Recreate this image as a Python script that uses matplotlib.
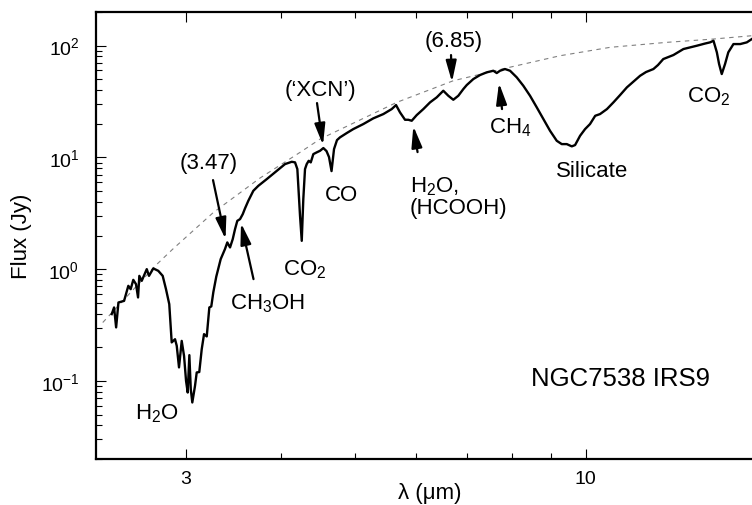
import matplotlib
matplotlib.use('Agg')
import matplotlib.pyplot as plt
from matplotlib.ticker import NullFormatter

plt.rcParams['font.family'] = ['Liberation Sans', 'DejaVu Sans']
plt.rcParams['mathtext.fontset'] = 'custom'
plt.rcParams['mathtext.rm'] = 'Liberation Sans'
plt.rcParams['mathtext.it'] = 'Liberation Sans:italic'
plt.rcParams['mathtext.default'] = 'regular'

# ISO spectrum of NGC7538 IRS9
lam = [2.401, 2.418, 2.433, 2.450, 2.492, 2.524, 2.542, 2.562, 2.583, 2.599,
       2.609, 2.628, 2.668, 2.686, 2.721, 2.762, 2.799, 2.827, 2.855, 2.876,
       2.905, 2.920, 2.940, 2.964, 2.985, 3.003, 3.018, 3.033, 3.046, 3.060,
       3.085, 3.101, 3.125, 3.148, 3.170, 3.196, 3.221, 3.240, 3.260, 3.289,
       3.333, 3.376, 3.400, 3.428, 3.456, 3.480, 3.504, 3.533, 3.562, 3.586,
       3.622, 3.677, 3.733, 3.829, 3.946, 4.045, 4.128, 4.169, 4.198, 4.232,
       4.254, 4.274, 4.296, 4.318, 4.344, 4.371, 4.405, 4.450, 4.495, 4.540,
       4.583, 4.618, 4.653, 4.688, 4.730, 4.773, 4.871, 4.968, 5.120, 5.276,
       5.438, 5.577, 5.650, 5.718, 5.805, 5.863, 5.923, 6.013, 6.134, 6.259,
       6.386, 6.514, 6.613, 6.713, 6.815, 6.919, 6.990, 7.130, 7.275, 7.423,
       7.573, 7.650, 7.727, 7.844, 7.963, 8.125, 8.288, 8.457, 8.630, 8.803,
       8.982, 9.165, 9.304, 9.446, 9.589, 9.685, 9.832, 9.981, 10.13, 10.29,
       10.44, 10.66, 10.87, 11.09, 11.32, 11.53, 11.78, 11.99, 12.26, 12.43,
       12.63, 13.02, 13.42, 13.97, 14.32, 14.54, 14.69, 14.84, 14.94, 15.06,
       15.21, 15.36, 15.60, 15.92, 16.24, 16.49]
flux = [0.396, 0.454, 0.301, 0.503, 0.520, 0.709, 0.662, 0.802, 0.734, 0.558,
        0.871, 0.786, 1.000, 0.871, 1.015, 0.966, 0.871, 0.662, 0.486, 0.221,
        0.236, 0.206, 0.132, 0.228, 0.167, 0.100, 0.0787, 0.170, 0.0843, 0.0641,
        0.0902, 0.119, 0.120, 0.192, 0.262, 0.250, 0.454, 0.464, 0.622, 0.857,
        1.229, 1.510, 1.734, 1.564, 1.856, 2.281, 2.706, 2.803, 3.108, 3.495,
        4.088, 5.023, 5.568, 6.394, 7.586, 8.710, 9.134, 9.022, 7.859, 3.000,
        1.792, 4.233, 7.859, 8.710, 9.324, 9.022, 10.70, 11.09, 11.46, 12.12,
        11.39, 10.06, 7.540, 11.87, 14.28, 15.11, 16.51, 17.92, 19.87, 22.35,
        24.41, 27.06, 29.39, 25.28, 21.71, 21.71, 21.27, 23.91, 27.06, 31.07,
        34.45, 39.48, 35.60, 32.79, 35.60, 40.89, 44.39, 50.23, 54.57, 57.68,
        59.62, 56.86, 59.62, 61.74, 59.62, 52.03, 43.75, 35.60, 28.03, 22.03,
        17.30, 14.08, 13.15, 13.15, 12.55, 12.89, 15.61, 17.92, 19.87, 23.57,
        24.41, 27.06, 31.07, 36.12, 42.34, 47.22, 53.78, 58.04, 61.74, 67.05,
        75.86, 82.38, 93.24, 99.8, 104.4, 107.0, 110.6, 87.10, 68.45, 55.68,
        68.45, 87.10, 103.3, 103.3, 107.0, 114.6]

# adopted continuum (dashed)
cont_lam = [2.337, 2.743, 2.885, 3.260, 3.751, 4.232, 4.495, 5.662, 6.713,
            7.844, 9.257, 10.76, 12.76, 14.69, 16.49]
cont_flux = [0.333, 1.086, 1.510, 3.212, 6.528, 11.09, 14.58, 31.07, 48.52,
             62.64, 81.22, 96.56, 107.0, 114.6, 122.7]

# feature labels: text, lambda, flux
labels = ['$H_2O$', '$CH_3OH$', '$CO_2$', 'CO', '(\u2018XCN\u2019)', '(3.47)',
          '(6.85)', '$CH_4$', 'Silicate', '$CO_2$']
label_lam = [2.749, 3.838, 4.296, 4.798, 4.495, 3.211, 6.713, 7.963, 10.18, 14.47]
label_flux = [0.0522, 0.496, 1.0, 4.69, 40.9, 9.02, 110.6, 18.7, 7.59, 35.6]

# arrows: tail -> tip
arrow_tail_lam = [3.257, 3.679, 4.454, 6.667, 6.028, 7.773]
arrow_tail_flux = [6.263, 0.814, 30.63, 82.38, 11.15, 27.06]
arrow_tip_lam = [3.382, 3.543, 4.535, 6.687, 5.952, 7.703]
arrow_tip_flux = [1.856, 2.581, 12.89, 47.22, 19.06, 46.26]

x_major = [3, 10]
x_minor = [4, 5, 6, 7, 8, 9]
y_major = [0.1, 1, 10, 100]
y_ticklabels = ['$10^{-1}$', '$10^{0}$', '$10^{1}$', '$10^{2}$']

fig = plt.figure(figsize=(7.52, 5.06), dpi=100)
ax = fig.add_axes([96 / 752, 46 / 506, 666 / 752, 447 / 506])

ax.plot(cont_lam, cont_flux, color='#808080', lw=0.8, dashes=(4, 4))
ax.plot(lam, flux, color='black', lw=1.7)

ax.set_xscale('log')
ax.set_yscale('log')
ax.set_xlim(2.29, 17)
ax.set_ylim(0.02, 200)

ax.set_xticks(x_major)
ax.set_xticklabels(['3', '10'])
ax.set_xticks(x_minor, minor=True)
ax.xaxis.set_minor_formatter(NullFormatter())
ax.set_yticks(y_major)
ax.set_yticklabels(y_ticklabels)
ax.yaxis.set_minor_formatter(NullFormatter())

ax.tick_params(which='both', direction='in', top=True, right=True, width=0.8)
ax.tick_params(which='major', length=7, labelsize=14)
ax.tick_params(which='minor', length=4)
ax.tick_params(axis='y', pad=12)
ax.tick_params(axis='x', pad=8)
for s in ax.spines.values():
    s.set_linewidth(1.6)

fig.text(430 / 752, 1 - 494 / 506, '\u03bb (\u03bcm)', ha='center', va='center', fontsize=16)
fig.text(21 / 752, 1 - 236 / 506, 'Flux (Jy)', ha='center', va='center',
         rotation=90, fontsize=16)

for s, x, y in zip(labels, label_lam, label_flux):
    ax.text(x, y, s, ha='center', va='center', fontsize=16)
ax.text(5.893, 4.53, '$H_2O$,\n(HCOOH)', ha='left', va='center', fontsize=16,
        multialignment='left', linespacing=1.0)
ax.text(11.09, 0.107, 'NGC7538 IRS9', ha='center', va='center', fontsize=18.5)

for x0, y0, x1, y1 in zip(arrow_tail_lam, arrow_tail_flux, arrow_tip_lam, arrow_tip_flux):
    ax.annotate('', xy=(x1, y1), xytext=(x0, y0),
                arrowprops=dict(arrowstyle='-|>,head_length=0.8,head_width=0.2',
                                color='black', lw=1.6, shrinkA=0, shrinkB=0,
                                mutation_scale=16))

fig.savefig('out.png', dpi=100)
